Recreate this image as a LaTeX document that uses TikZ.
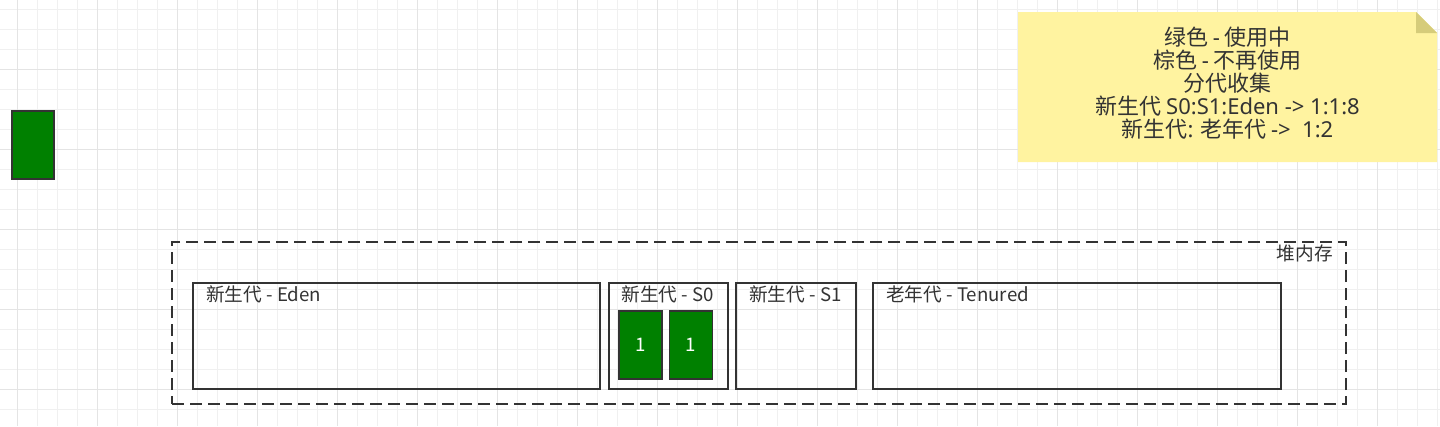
\documentclass[tikz,border=0pt]{standalone}
\usepackage{fontspec}
\setmainfont{Noto Sans CJK SC}
\newfontfamily\lat{Noto Sans}
\usetikzlibrary{positioning,calc}
\definecolor{gLine}{RGB}{51,51,51}
\definecolor{gGreen}{RGB}{0,128,0}
\definecolor{gNote}{RGB}{255,243,160}
\definecolor{gFold}{RGB}{214,204,122}
\definecolor{gGrid}{RGB}{240,240,240}
\definecolor{gGridMajor}{RGB}{228,228,228}

\begin{document}
\begin{tikzpicture}[
			x=0.75pt,y=-0.75pt,
			gen/.style={
				draw=gLine,
				line width=1.5pt,
				minimum height=79.5pt,
				inner sep=0pt
			},
			obj/.style={
				draw=gLine,
				fill=gGreen,
				line width=1.2pt,
				minimum width=32.25pt,
				minimum height=51pt,
				inner sep=0pt,
				text=white,
				font=\fontsize{14}{16}\selectfont
			},
			lbl/.style={
				text=gLine,
				inner sep=0pt,
				font=\fontsize{14}{16}\selectfont
			}
			]
			\useasboundingbox (0,0) rectangle (1440,426);
			\fill[white] (0,0) rectangle (1440,426);
			\foreach \i in {17,37,...,1437} \draw[gGrid,line width=0.75pt] (\i,0) -- (\i,426);
			\foreach \j in {9,29,...,409} \draw[gGrid,line width=0.75pt] (0,\j) -- (1440,\j);
			\foreach \i in {17,97,...,1437} \draw[gGridMajor,line width=0.75pt] (\i,0) -- (\i,426);
			\foreach \j in {69,149,...,389} \draw[gGridMajor,line width=0.75pt] (0,\j) -- (1440,\j);

			\node[obj,minimum width=31.5pt](live) at (33,145){};

			\coordinate (nw) at (1018,12);
			\coordinate (se) at (1437,162);
			\fill[gNote] (nw) -- (1416,12) -- (1437,33) -- (se) -- (1018,162) -- cycle;
			\fill[gFold] (1416,12) -- (1437,33) -- (1416,33) -- cycle;
			\node[lbl,align=center,font=\fontsize{16.5}{17.25}\selectfont](note) at ($(nw)!0.5!(se)+(0,-4)$){绿色 {\lat -} 使用中\\棕色 {\lat -} 不再使用\\分代收集\\新生代 {\lat S0:S1:Eden -> 1:1:8}\\新生代{\lat :} 老年代 {\lat ->\ \ 1:2}};

			\node[draw=gLine,line width=1.8pt,dash pattern=on 9pt off 4.5pt,minimum width=880.5pt,minimum height=121.5pt](heap) at (759,323){};
			\node[lbl,anchor=east](heapT) at ($(heap.north east)+(-14,13)$){堆内存};

			\node[gen,minimum width=305.25pt](eden) at (396.5,336){};
			\node[gen,minimum width=89.25pt](s0) at (668.5,336){};
			\node[gen,minimum width=90pt](s1) at (796,336){};
			\node[gen,minimum width=306pt](old) at (1077,336){};
			\node[lbl,anchor=west](edenT) at ($(eden.north west)+(14,12)$){新生代 - Eden};
			\node[lbl](s0T) at ($(s0.north)+(-1,12)$){新生代 - S0};
			\node[lbl,anchor=west](s1T) at ($(s1.north west)+(14,12)$){新生代 - S1};
			\node[lbl,anchor=west](oldT) at ($(old.north west)+(14,12)$){老年代 - Tenured};

			\node[obj](c1) at (640.5,345){1};
			\node[obj,right=4.5pt of c1](c2){1};
		\end{tikzpicture}
\end{document}
